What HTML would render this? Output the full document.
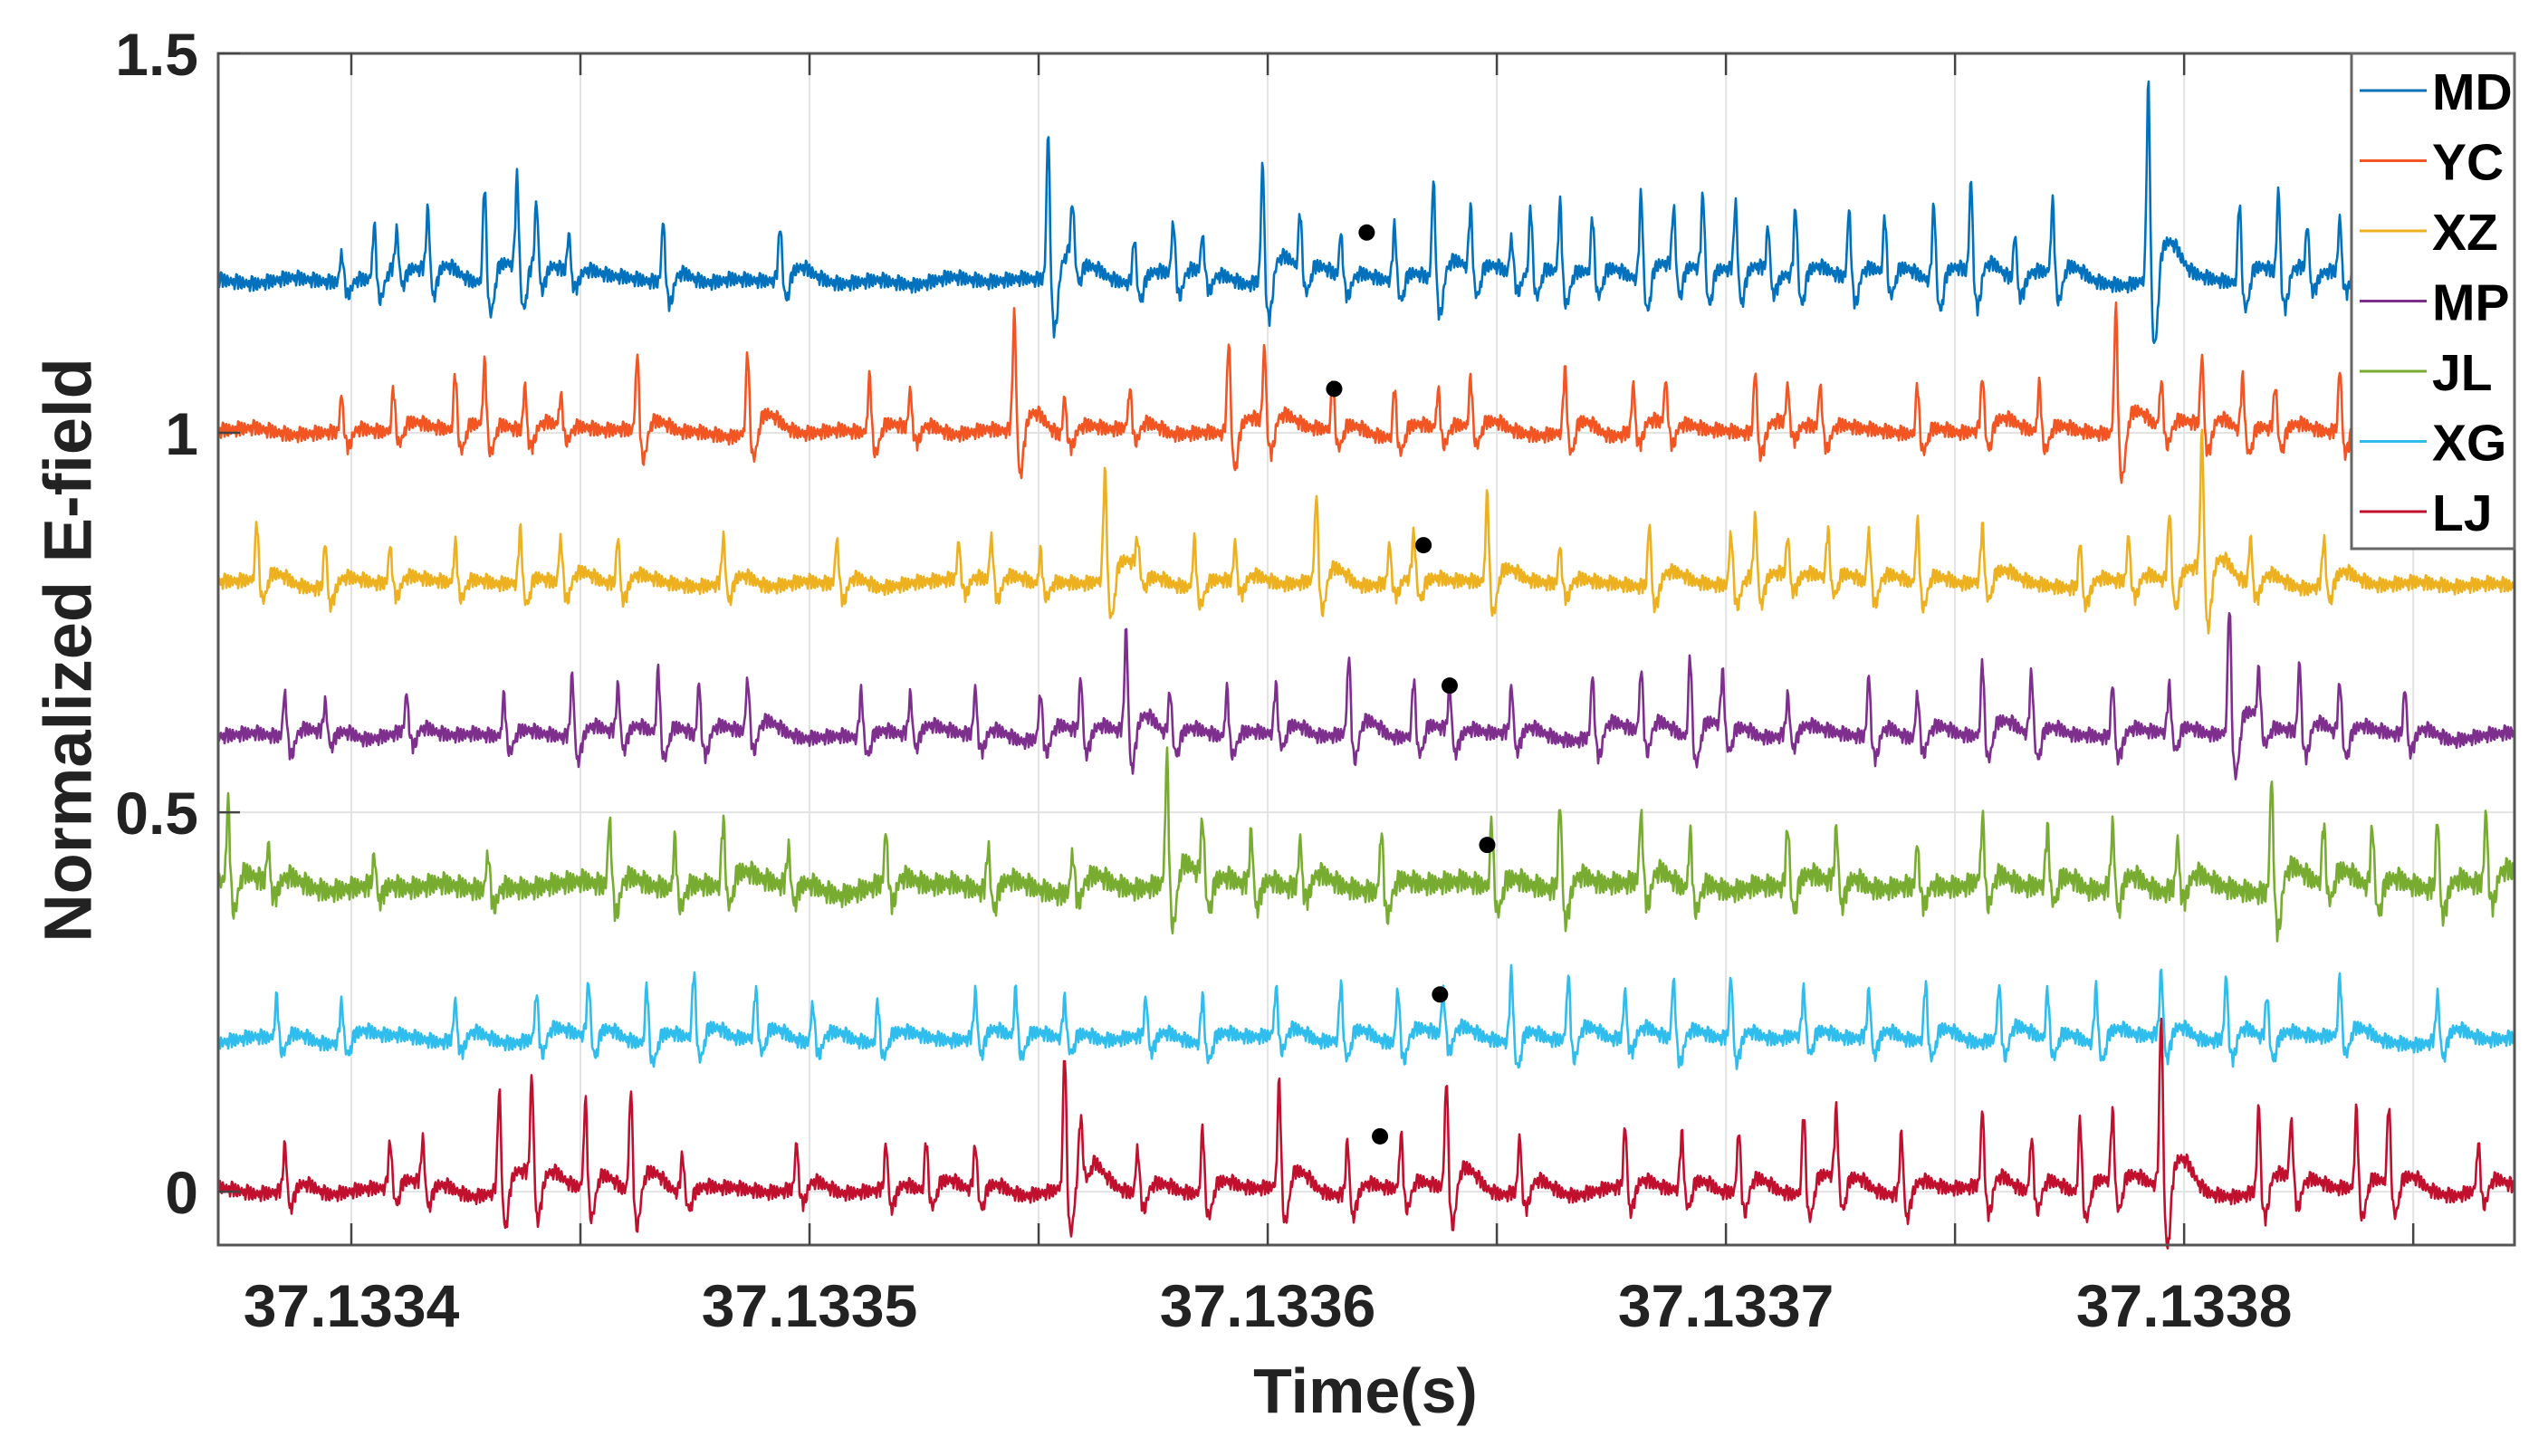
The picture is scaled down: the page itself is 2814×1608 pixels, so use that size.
<!DOCTYPE html>
<html><head><meta charset="utf-8"><style>
html,body{margin:0;padding:0;background:#fff;}
svg{display:block;font-family:"Liberation Sans",Arial,sans-serif;}
</style></head><body>
<svg id="chart" width="2814" height="1608" viewBox="0 0 2814 1608" xmlns="http://www.w3.org/2000/svg">
<rect width="2814" height="1608" fill="#fff"/>
<g id="grid"></g>
<g id="series"></g>
<g id="axes"></g>
<g id="legend"></g>
<text x="75" y="718" transform="rotate(-90 75 718)" text-anchor="middle" dominant-baseline="central" font-size="74" font-weight="bold" fill="#222">Normalized E-field</text>
<text x="1508" y="1560" text-anchor="middle" font-size="70" font-weight="bold" fill="#222">Time(s)</text>
</svg>
<script>
// time in microseconds after 37.1334 s
const seriesNames = ["MD","YC","XZ","MP","JL","XG","LJ"];
const seriesColors = ["#0072BD","#F25522","#EDB120","#7E2F8E","#77AC30","#2FBDEE","#C0102E"];
const seriesOffsets = [1.2,1.0,0.8,0.6,0.4,0.2,0.0];
const noiseScale = [1,1,1,1,1.5,1,1];
const mdTimes=[-2.1,5.0,9.9,16.7,29.1,36.2,40.4,47.5,68.1,93.6,152.1,157.4,170.9,179.4,185.8,198.9,207.1,216.0,227.7,236.2,244.3,253.2,257.4,263.8,270.9,281.5,288.6,295.0,302.1,309.2,315.2,326.9,334.7,345.4,353.5,363.1,371.3,392.2,412.1,420.6,426.9,434.0];
const mdAmps=[.043,.075,.054,.086,.129,.129,.086,.054,.086,.075,.204,.075,.064,.075,.054,.161,.075,.064,.075,.139,.086,.054,.086,.097,.075,.118,.086,.107,.097,.064,.097,.097,.075,.107,.129,.064,.097,.268,.107,.118,.064,.075];
const ycTimes=[-2.1,9.2,22.7,29.1,37.9,45.7,62.4,86.5,113.1,122.0,144.7,155.7,169.9,191.5,199.3,214.2,227.7,237.2,244.3,264.9,279.8,286.9,306.4,313.5,320.6,341.8,356.0,368.4,385.1,395.0,403.9,412.8,419.9,434.0];
const ycAmps=[.054,.054,.075,.086,.064,.043,.107,.107,.075,.054,.161,.054,.054,.129,.107,.064,.064,.054,.064,.086,.064,.064,.086,.054,.064,.064,.075,.064,.172,.064,.097,.075,.064,.086];
const xzTimes=[-20.6,-5.7,8.5,22.7,36.9,45.7,58.2,81.2,106.0,132.6,139.7,150.4,164.5,171.6,184.0,192.9,210.6,226.6,231.9,247.9,263.8,283.3,301.1,306.4,313.5,322.3,331.2,341.8,356.0,377.3,387.9,396.8,403.9,414.5,430.5];
const xzAmps=[.075,.064,.054,.054,.075,.064,.064,.064,.064,.054,.064,.043,.15,.043,.064,.054,.118,.054,.064,.118,.054,.086,.075,.086,.054,.064,.075,.086,.075,.064,.064,.097,.193,.064,.064];
const mpTimes=[-14.5,-5.7,12.1,33.3,48.2,58.2,67.0,75.9,86.5,111.3,122.0,136.2,150.4,159.2,169.1,178.7,191.1,201.8,217.7,231.9,239.7,253.2,270.9,281.5,292.2,299.3,313.5,331.2,341.8,356.0,366.7,384.4,396.8,409.9,416.3,425.2,434.0,448.2];
const mpAmps=[.064,.043,.054,.054,.086,.064,.086,.075,.075,.064,.054,.064,.064,.075,.14,.064,.064,.064,.107,.075,.064,.064,.086,.086,.107,.075,.054,.086,.064,.097,.086,.075,.064,.172,.064,.097,.075,.064];
const jlTimes=[-26.9,-18.1,5.0,29.8,56.4,70.6,81.2,95.4,116.7,139.0,157.4,178.0,185.8,196.4,207.1,224.8,248.9,263.8,281.5,292.2,313.5,324.1,341.8,356.0,370.2,384.4,398.6,419.1,430.5,441.1,455.3,465.9];
const jlAmps=[.107,.054,.043,.054,.097,.064,.086,.054,.075,.064,.054,.172,.086,.075,.064,.086,.086,.118,.097,.075,.086,.075,.064,.086,.075,.086,.064,.161,.075,.086,.097,.097];
const xgTimes=[-16.3,-2.1,22.7,40.4,51.8,64.5,74.8,88.3,100.7,114.9,136.2,145.0,155.7,173.4,185.8,201.8,216.0,228.4,238.3,253.2,265.6,278.0,288.6,301.1,317.0,331.2,343.6,359.6,370.2,380.8,395.0,409.2,418.1,434.0,455.3];
const xgAmps=[.054,.054,.054,.064,.075,.075,.086,.064,.054,.054,.064,.064,.054,.054,.064,.064,.075,.075,.064,.097,.086,.064,.086,.086,.064,.064,.075,.075,.064,.075,.086,.086,.064,.075,.064];
const ljTimes=[-14.5,8.5,15.6,32.3,39.4,51.1,61.0,72.3,97.2,116.7,125.5,136.2,155.7,159.2,171.6,185.8,202.5,217.4,229.1,239.0,255.0,278.0,290.4,302.8,317.0,324.1,338.3,356.0,366.7,377.3,384.4,395.0,416.3,423.4,437.6,444.7,464.2];
const ljAmps=[.064,.064,.064,.14,.14,.118,.14,.054,.064,.064,.064,.064,.182,.064,.064,.086,.14,.075,.075,.15,.075,.086,.075,.086,.107,.097,.086,.107,.075,.097,.097,.236,.118,.086,.107,.107,.064];
const spikeTimes=[mdTimes,ycTimes,xzTimes,mpTimes,jlTimes,xgTimes,ljTimes];
const spikeAmps=[mdAmps,ycAmps,xzAmps,mpAmps,jlAmps,xgAmps,ljAmps];
const markerTimes=[221.6,214.5,234.0,239.7,247.9,237.6,224.5];
const markerValues=[1.264,1.058,0.852,0.667,0.457,0.260,0.073];
const jitter=[0.3,-0.8,0.6,-0.2,0.9,-0.6,0.1,-0.9,0.5,0.2,-0.4,0.8,-0.7,0.4,-0.1,0.7,-0.5];
const wander=[0.2,-0.4,0.5,-0.1,-0.6,0.3,0.7,-0.3,0.1,-0.5,0.4,0.6,-0.2,-0.7,0.3,0.0,0.5,-0.4,0.2,-0.6,0.6,-0.1,0.4,-0.3];
const yTicks=[0,0.5,1,1.5];
const yTickLabels=["0","0.5","1","1.5"];
const xTicks=[0,100,200,300,400];
const xTickLabels=["37.1334","37.1335","37.1336","37.1337","37.1338"];
const xGrid=[0,50,100,150,200,250,300,350,400,450];

const X0=241,X1=2777,Y0=59,Y1=1375;
const tMin=-29.05,tMax=472.1,vMin=-0.0702,vMax=1.5;
const NS="http://www.w3.org/2000/svg";
function xs(t){return X0+(t-tMin)/(tMax-tMin)*(X1-X0);}
function ys(v){return Y1-(v-vMin)/(vMax-vMin)*(Y1-Y0);}
function mk(tag,attrs,parent){const e=document.createElementNS(NS,tag);for(const k in attrs)e.setAttribute(k,attrs[k]);parent.appendChild(e);return e;}
const grid=document.getElementById('grid'),axes=document.getElementById('axes'),sg=document.getElementById('series'),lg=document.getElementById('legend');

xGrid.forEach(t=>{const l=mk('line',{x1:xs(t),x2:xs(t),y1:Y0,y2:Y1,stroke:'#e3e3e3','stroke-width':2},grid);

});
yTicks.forEach(v=>{const l=mk('line',{x1:X0,x2:X1,y1:ys(v),y2:ys(v),stroke:'#e3e3e3','stroke-width':2},grid);

});

function spike(t,t0,A){const d=t-t0;
return A*Math.exp(-(d/0.5)*(d/0.5))-0.4*A*Math.exp(-((d-1.4)/1.0)*((d-1.4)/1.0))+0.18*A*Math.exp(-((d-4.5)/3.5)*((d-4.5)/3.5));}
const step=(tMax-tMin)/(X1-X0);
seriesNames.forEach((name,i)=>{
  let d='';let k=0;
  for(let t=tMin;t<=tMax+1e-9;t+=step,k++){
    const wi=(t-tMin)/8+i*5;const w0=Math.floor(wi),f=wi-w0;
    const wv=wander[w0%wander.length]*(1-f)+wander[(w0+1)%wander.length]*f;
    let v=seriesOffsets[i]+jitter[(k*7+i*3)%jitter.length]*0.011*noiseScale[i]+wv*0.01*noiseScale[i];
    const T=spikeTimes[i],A=spikeAmps[i];
    for(let j=0;j<T.length;j++){if(Math.abs(t-T[j])<16)v+=spike(t,T[j],A[j]);}
    d+=(k?'L':'M')+xs(t).toFixed(1)+' '+ys(v).toFixed(1);
  }
  const p=mk('path',{d:d,fill:'none',stroke:seriesColors[i],'stroke-width':2.6,'stroke-linejoin':'round'},sg);
  
  
  const c=mk('circle',{cx:xs(markerTimes[i]),cy:ys(markerValues[i]),r:9,fill:'#000'},sg);
  
  
});

const frame=mk('rect',{x:X0,y:Y0,width:X1-X0,height:Y1-Y0,fill:'none',stroke:'#555','stroke-width':3},axes);


xGrid.forEach(t=>{
  const a=mk('line',{x1:xs(t),x2:xs(t),y1:Y1,y2:Y1-24,stroke:'#444','stroke-width':2.5},axes);
  
  
  const b=mk('line',{x1:xs(t),x2:xs(t),y1:Y0,y2:Y0+24,stroke:'#444','stroke-width':2.5},axes);
  
  
});
yTicks.forEach((v,i)=>{
  const a=mk('line',{x1:X0,x2:X0+24,y1:ys(v),y2:ys(v),stroke:'#444','stroke-width':2.5},axes);
  
  
  const tx=mk('text',{x:219,y:ys(v)+24,'text-anchor':'end','font-size':66,'font-weight':'bold',fill:'#222'},axes);
  tx.textContent=yTickLabels[i];
  
  
});
xTicks.forEach((t,i)=>{
  const tx=mk('text',{x:xs(t),y:1465,'text-anchor':'middle','font-size':66,'font-weight':'bold',fill:'#222'},axes);
  tx.textContent=xTickLabels[i];
  
  
});

const box=mk('rect',{x:2597,y:59,width:180,height:547,fill:'#fff',stroke:'#666','stroke-width':3},lg);


seriesNames.forEach((name,i)=>{
  const y=100+i*77.5;
  const l=mk('line',{x1:2606,x2:2680,y1:y,y2:y,stroke:seriesColors[i],'stroke-width':3},lg);
  
  
  const tx=mk('text',{x:2686,y:y+21,'font-size':57,'font-weight':'bold',fill:'#000'},lg);
  tx.textContent=name;
  
  
});
</script>
</body></html>
